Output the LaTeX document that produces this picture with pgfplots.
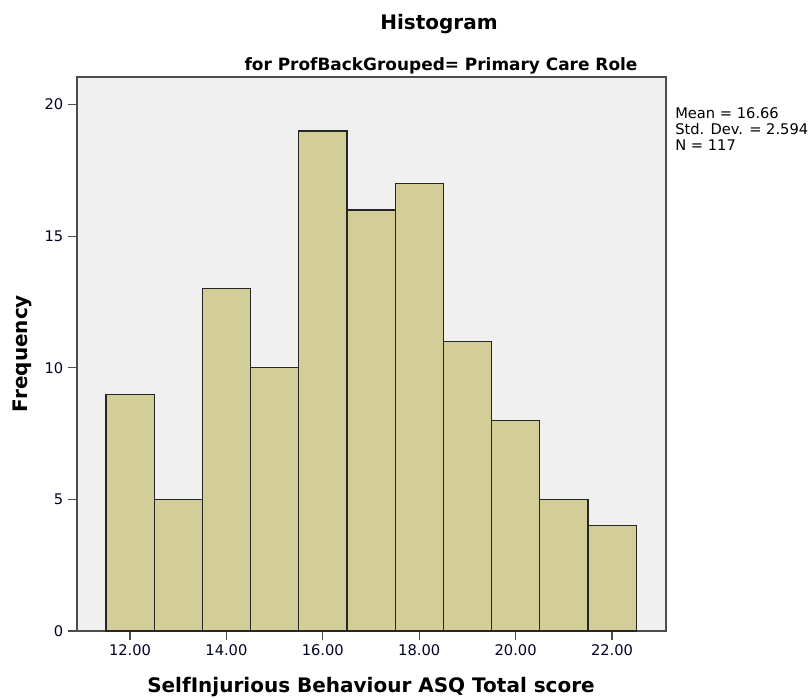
\documentclass[border=0pt]{standalone}
\usepackage{fontspec}
\setmainfont{DejaVu Sans}
\usepackage{pgfplots}
\pgfplotsset{compat=1.18}
\definecolor{barfill}{RGB}{211,206,151}
\definecolor{plotbg}{RGB}{240,240,240}
\begin{document}
\begin{tikzpicture}
\useasboundingbox (-57.75pt,-49.5pt) rectangle (549.75pt,473.25pt);
\begin{axis}[
  at={(0,0)}, anchor=south west,
  scale only axis, width=441.75pt, height=415.5pt,
  xmin=10.9, xmax=23.12, ymin=0, ymax=21.05,
  axis background/.style={fill=plotbg},
  axis line style={black!70, line width=1.2pt},
  tick align=outside, tick pos=left,
  major tick length=6.75pt,
  every tick/.style={black!70, line width=1pt},
  xtick={12,14,16,18,20,22}, ytick={0,5,10,15,20},
  xticklabel={\pgfmathprintnumber[fixed,fixed zerofill,precision=2]{\tick}},
  /pgf/number format/assume math mode=true,
  tick label style={font=\fontsize{11}{13}\selectfont, text=black!85!blue},
]
\addplot[ybar interval, fill=barfill, draw=black!85, line width=0.9pt] coordinates {
  (11.5,9) (12.5,5) (13.5,13) (14.5,10) (15.5,19) (16.5,16)
  (17.5,17) (18.5,11) (19.5,8) (20.5,5) (21.5,4) (22.5,4)
};
\end{axis}
\node[anchor=base, font=\bfseries\fontsize{15}{18}\selectfont] at (271.5pt,450.75pt) {Histogram};
\node[anchor=base, font=\bfseries\fontsize{12.7}{15}\selectfont] at (273pt,420pt) {for ProfBackGrouped= Primary Care Role};
\node[anchor=base, font=\bfseries\fontsize{15}{18}\selectfont] at (220.5pt,-45.75pt) {SelfInjurious Behaviour ASQ Total score};
\node[anchor=base, rotate=90, font=\bfseries\fontsize{15}{18}\selectfont] at (-36.75pt,208.1pt) {Frequency};
\node[anchor=base west, inner sep=0pt, font=\fontsize{11}{11.6}\selectfont] at (448.5pt,384pt) {Mean = 16.66};
\node[anchor=base west, inner sep=0pt, font=\fontsize{11}{11.6}\selectfont] at (448.5pt,372pt) {Std. Dev. = 2.594};
\node[anchor=base west, inner sep=0pt, font=\fontsize{11}{11.6}\selectfont] at (448.5pt,360pt) {N = 117};
\end{tikzpicture}
\end{document}
